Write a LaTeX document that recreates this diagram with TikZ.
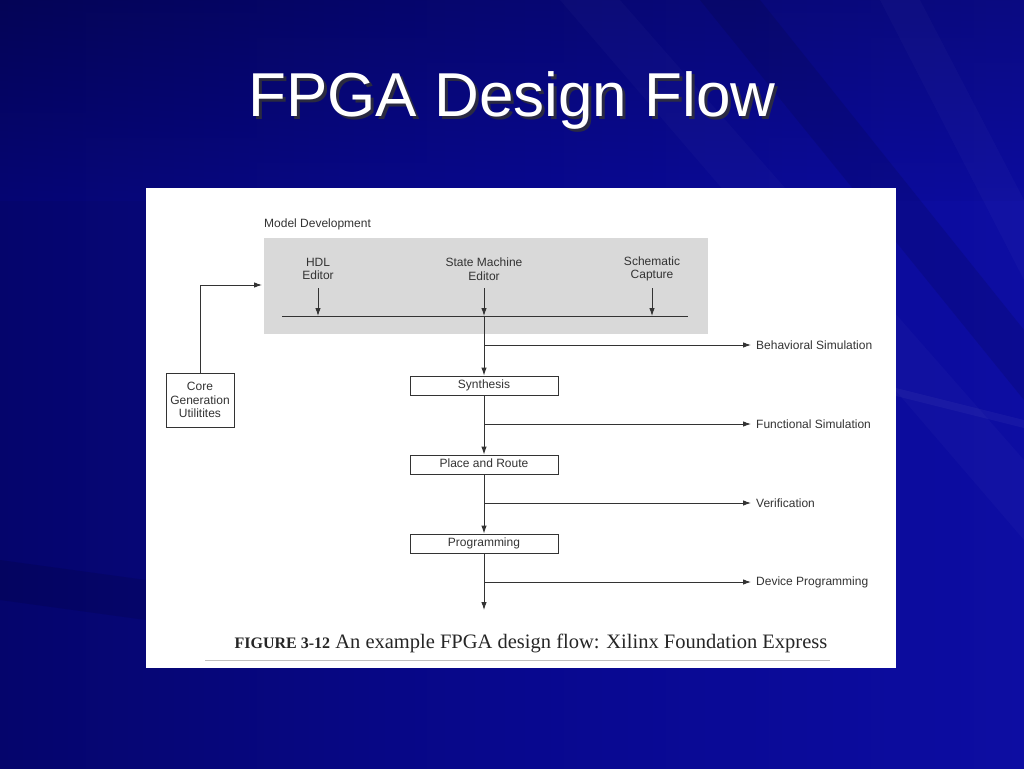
\documentclass[tikz,border=0pt]{standalone}
\usepackage{fontspec}
\setmainfont{Liberation Sans}
\newfontfamily\capfont{Liberation Serif}
\usetikzlibrary{arrows.meta}
\definecolor{bgdark}{HTML}{05056C}
\definecolor{bgmid}{HTML}{08088E}
\definecolor{bglight}{HTML}{0D0DA2}
\definecolor{ink}{HTML}{333333}
\definecolor{panelgray}{HTML}{D9D9D9}
\tikzset{
  lbl/.style={font=\fontsize{12}{13.5}\selectfont, text=ink, align=center, inner sep=0pt},
  stagebox/.style={draw=ink, line width=0.9pt, fill=white, minimum width=148pt, minimum height=19pt, inner sep=0pt, text height=9pt, text depth=2.5pt, font=\fontsize{12}{13.5}\selectfont, text=ink},
  conn/.style={draw=ink, line width=0.9pt},
  arr/.style={conn, -{Latex[length=8pt,width=5.5pt]}},
}
\begin{document}
\begin{tikzpicture}[x=1pt,y=-1pt]
\useasboundingbox (0,0) rectangle (1024,768);
% background
\shade[left color=bgdark, right color=bglight, middle color=bgmid] (0,0) rectangle (1024,768);
\shade[top color=black, bottom color=bgmid, opacity=0.2] (0,0) rectangle (1024,200);
\fill[black, opacity=0.1] (700,0) -- (760,0) -- (1024,330) -- (1024,400) -- cycle;
\fill[white, opacity=0.025] (560,0) -- (620,0) -- (1024,460) -- (1024,540) -- cycle;
\fill[white, opacity=0.025] (880,0) -- (920,0) -- (1024,200) -- (1024,280) -- cycle;
\fill[white, opacity=0.04] (896,388) -- (1024,420) -- (1024,428) -- (896,396) -- cycle;
\fill[black, opacity=0.1] (0,560) -- (146,580) -- (146,620) -- (0,600) -- cycle;
% title
\node[font=\fontsize{62}{70}\selectfont, text=black!80, opacity=0.8] (titleshadow) at (515,103) {FPGA Design Flow};
\node[font=\fontsize{62}{70}\selectfont, text=white] (title) at (512,100) {FPGA Design Flow};
% panel
\fill[white] (146,188) rectangle (896,668);
% model development
\node[lbl, anchor=west] (mdl) at (264,224) {Model Development};
\fill[panelgray] (264,238) rectangle (708,334);
\node[lbl] (hdl) at (318,269) {HDL\\Editor};
\node[lbl] (sme) at (484,269) {State Machine\\Editor};
\node[lbl] (sch) at (652,269) {Schematic\\Capture};
\coordinate (busL) at (282,316);
\coordinate (busR) at (688,316);
\draw[conn] (busL) -- (busR);
\coordinate (hdlB) at (318,316);
\coordinate (smeB) at (484,316);
\coordinate (schB) at (652,316);
\draw[arr] (hdl.south |- 0,288) -- (hdlB);
\draw[arr] (sme.south |- 0,288) -- (smeB);
\draw[arr] (sch.south |- 0,288) -- (schB);
% core generation
\node[draw=ink, line width=0.9pt, minimum width=68pt, minimum height=54pt, inner sep=0pt, lbl] (core) at (200,400) {Core\\Generation\\Utilitites};
\coordinate (gin) at (262,285);
\draw[arr] (core.north) |- (gin);
% stages
\node[stagebox] (syn) at (484,385.5) {Synthesis};
\node[stagebox] (par) at (484,464.5) {Place and Route};
\node[stagebox] (prg) at (484,543.5) {Programming};
\coordinate (endp) at (484,610);
\draw[arr] (smeB) -- (syn.north);
\draw[arr] (syn.south) -- (par.north);
\draw[arr] (par.south) -- (prg.north);
\draw[arr] (prg.south) -- (endp);
% branches
\node[lbl, anchor=west] (beh) at (756,345) {Behavioral Simulation};
\node[lbl, anchor=west] (fun) at (756,424) {Functional Simulation};
\node[lbl, anchor=west] (ver) at (756,503) {Verification};
\node[lbl, anchor=west] (dev) at (756,582) {Device Programming};
\coordinate (b1) at (484,345);
\coordinate (b2) at (484,424);
\coordinate (b3) at (484,503);
\coordinate (b4) at (484,582);
\draw[arr, shorten >=5pt] (b1) -- (beh.west);
\draw[arr, shorten >=5pt] (b2) -- (fun.west);
\draw[arr, shorten >=5pt] (b3) -- (ver.west);
\draw[arr, shorten >=5pt] (b4) -- (dev.west);
% caption
\node[font=\capfont\fontsize{20.5}{23}\selectfont, text=black!85, inner sep=0pt] (cap) at (531,643) {{\fontsize{16}{18}\selectfont\bfseries FIGURE 3-12} An example FPGA design flow: Xilinx Foundation Express};
\coordinate (ruleL) at (205,660);
\coordinate (ruleR) at (830,660);
\draw[black!25, line width=1pt] (ruleL) -- (ruleR);
\end{tikzpicture}
\end{document}
